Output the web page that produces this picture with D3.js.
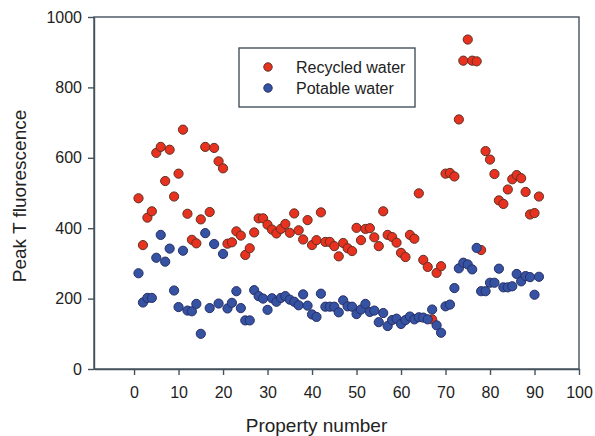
<!DOCTYPE html>
<html>
<head>
<meta charset="utf-8">
<script src="https://cdn.jsdelivr.net/npm/d3@7"></script>
<style>
  body { margin: 0; background: #fff; }
  svg { display: block; font-family: "Liberation Sans", Arial, sans-serif; }
  .axis path, .axis line { stroke: #44525e; stroke-width: 1.4; }
  .axis text { font-size: 16px; fill: #222; }
</style>
</head>
<body>
<svg class="chart" width="595" height="436"></svg>
<script>
// Property numbers 1..91
const properties = d3.range(1, 92);

const recycled = [485, 352, 430, 448, 614, 631, 534, 623, 490, 555,
  680, 441, 367, 357, 425, 631, 446, 628, 590, 570,
  356, 360, 391, 379, 324, 343, 388, 428, 428, 410,
  396, 385, 398, 412, 387, 442, 394, 368, 423, 352,
  366, 445, 361, 361, 349, 320, 358, 343, 335, 401,
  366, 398, 400, 374, 349, 448, 381, 375, 359, 330,
  318, 381, 370, 499, 310, 290, 141, 273, 292, 555,
  557, 547, 709, 876, 936, 876, 874, 338, 619, 595,
  554, 479, 469, 510, 539, 551, 542, 503, 439, 443, 490];

const potable = [272, 189, 202, 202, 316, 381, 305, 342, 223, 176,
  336, 166, 164, 185, 100, 386, 173, 355, 186, 327,
  172, 188, 221, 173, 138, 138, 224, 207, 200, 168,
  201, 191, 202, 207, 197, 191, 181, 212, 180, 155,
  148, 214, 177, 177, 177, 161, 195, 178, 177, 156,
  169, 185, 162, 166, 133, 159, 122, 139, 143, 128,
  139, 149, 141, 147, 146, 141, 169, 124, 103, 178,
  183, 230, 286, 302, 297, 283, 344, 221, 221, 245,
  245, 285, 232, 232, 235, 270, 249, 264, 261, 211, 262];

const xTicks = [0, 10, 20, 30, 40, 50, 60, 70, 80, 90, 100];
const yTicks = [0, 200, 400, 600, 800, 1000];

const series = [
  { name: 'Recycled water', values: recycled, fill: '#e8321f', stroke: '#5e3124' },
  { name: 'Potable water', values: potable, fill: '#3653a3', stroke: '#272f66' }
];

const margin = { top: 17, right: 16, bottom: 67, left: 94 };
const w = 595 - margin.left - margin.right;
const h = 436 - margin.top - margin.bottom;

const svg = d3.select('.chart');
const g = svg.append('g').attr('transform', `translate(${margin.left}, ${margin.top})`);

const x = d3.scaleLinear().domain([-9, 100]).range([0, w]);
const y = d3.scaleLinear().domain([0, 1000]).range([h, 0]);

// frame
g.append('rect')
  .attr('width', w).attr('height', h)
  .attr('fill', '#fff')
  .attr('stroke', '#44525e').attr('stroke-width', 1.4);

g.append('g')
  .attr('class', 'axis')
  .attr('transform', `translate(0, ${h})`)
  .call(d3.axisBottom(x).tickValues(xTicks).tickFormat(d3.format('d'))
    .tickSize(6).tickPadding(12).tickSizeOuter(0));

g.append('g')
  .attr('class', 'axis')
  .call(d3.axisLeft(y).tickValues(yTicks).tickFormat(d3.format('d'))
    .tickSize(6).tickPadding(6).tickSizeOuter(0));

// points
series.forEach(s => {
  g.append('g')
    .selectAll('circle')
    .data(s.values)
    .enter().append('circle')
    .attr('cx', (d, i) => x(properties[i]))
    .attr('cy', d => y(d))
    .attr('r', 4.6)
    .attr('fill', s.fill)
    .attr('stroke', s.stroke)
    .attr('stroke-width', 1);
});

// legend
const legend = g.append('g').attr('transform', `translate(${239 - margin.left}, ${48 - margin.top})`);
legend.append('rect')
  .attr('width', 176).attr('height', 59)
  .attr('fill', '#fff')
  .attr('stroke', '#44525e').attr('stroke-width', 1.4);

const items = legend.selectAll('.item')
  .data(series)
  .enter().append('g')
  .attr('class', 'item')
  .attr('transform', (d, i) => `translate(0, ${19 + i * 21})`);

items.append('circle')
  .attr('cx', 29).attr('r', 4.2)
  .attr('fill', d => d.fill)
  .attr('stroke', d => d.stroke);

items.append('text')
  .attr('x', 57).attr('dy', '0.36em')
  .style('font-size', '16px').style('fill', '#222')
  .text(d => d.name);

// axis titles
svg.append('text')
  .attr('x', margin.left + x(41)).attr('y', 432)
  .attr('text-anchor', 'middle')
  .style('font-size', '19px').style('fill', '#222')
  .text('Property number');

svg.append('text')
  .attr('transform', 'translate(26, 196) rotate(-90)')
  .attr('text-anchor', 'middle')
  .style('font-size', '19px').style('fill', '#222')
  .text('Peak T fluorescence');
</script>
</body>
</html>
